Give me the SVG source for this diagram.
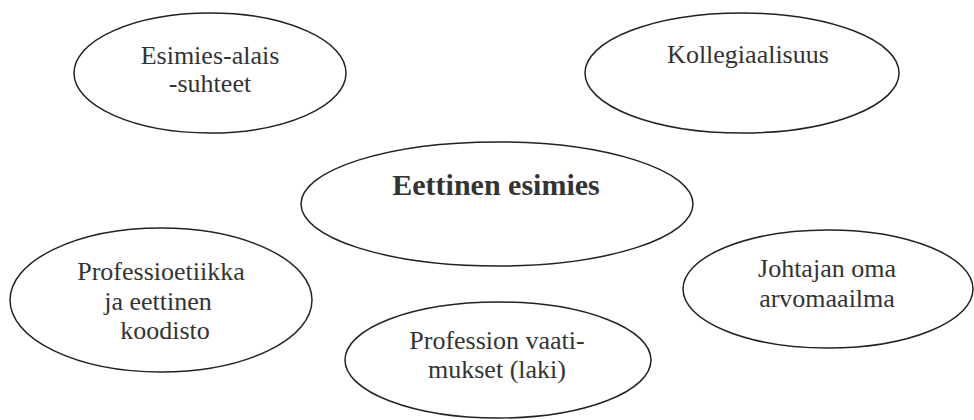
<svg xmlns="http://www.w3.org/2000/svg" width="974" height="420" viewBox="0 0 974 420">
<style>
.node ellipse{fill:#fff;stroke:#222;stroke-width:1.5}
.node text{font-family:'Liberation Serif',Tinos,'Times New Roman',Times,'DejaVu Serif',serif;font-size:26px;fill:#333;text-anchor:middle}
.node text.b{font-weight:bold;font-size:30px}
</style>
<rect width="974" height="420" fill="#fff"/>
<g id="connectors"></g>
<g id="n-esimies-alais" class="node">
<ellipse cx="210" cy="73" rx="136" ry="60"/>
<text x="210" y="64" font-family="Liberation Serif, serif">Esimies-alais</text>
<text x="210" y="92" font-family="Liberation Serif, serif">-suhteet</text>
</g>
<g id="n-kollegiaalisuus" class="node">
<ellipse cx="742" cy="73" rx="157" ry="60"/>
<text x="748" y="63" font-family="Liberation Serif, serif">Kollegiaalisuus</text>
</g>
<g id="n-eettinen" class="node">
<ellipse cx="497" cy="204" rx="196" ry="62"/>
<text class="b" x="496" y="195" font-family="Liberation Serif, serif">Eettinen esimies</text>
</g>
<g id="n-professioetiikka" class="node">
<ellipse cx="161" cy="300" rx="151" ry="72"/>
<text x="161" y="280" font-family="Liberation Serif, serif">Professioetiikka</text>
<text x="158" y="310" font-family="Liberation Serif, serif">ja eettinen</text>
<text x="165" y="339" font-family="Liberation Serif, serif">koodisto</text>
</g>
<g id="n-profession" class="node">
<ellipse cx="498" cy="360" rx="153" ry="58"/>
<text x="497" y="349" font-family="Liberation Serif, serif">Profession vaati-</text>
<text x="497" y="378" font-family="Liberation Serif, serif">mukset (laki)</text>
</g>
<g id="n-johtajan" class="node">
<ellipse cx="828" cy="289" rx="145" ry="59"/>
<text x="827" y="277" font-family="Liberation Serif, serif">Johtajan oma</text>
<text x="827" y="307" font-family="Liberation Serif, serif">arvomaailma</text>
</g>
</svg>
